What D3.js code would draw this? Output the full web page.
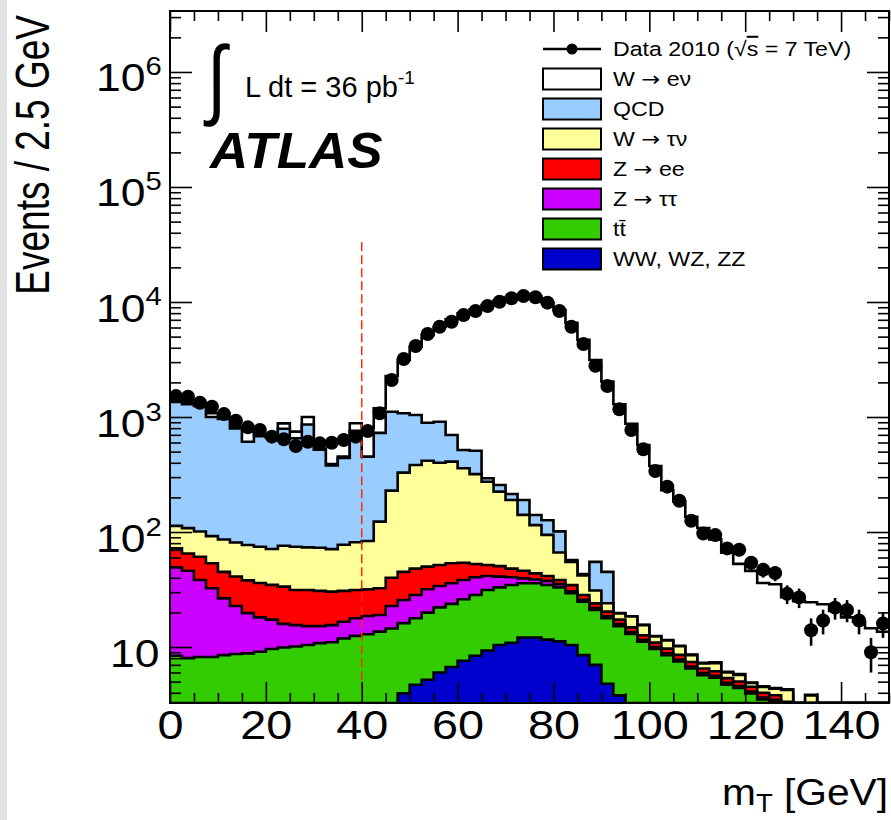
<!DOCTYPE html>
<html>
<head>
<meta charset="utf-8">
<script src="https://cdn.jsdelivr.net/npm/d3@7"></script>
<style>
  body { margin: 0; background: #fff; }
  svg text { font-family: "Liberation Sans", Arial, Helvetica, sans-serif; }
</style>
</head>
<body>
<svg id="chart" width="891" height="820"></svg>
<script>
// 60 bins of 2.5 GeV in m_T
const binWidth = 2.5;
const binLow = d3.range(0, 150, binWidth);

// data points (events / bin)
const dataCounts = [1520, 1500, 1330, 1230, 1060, 930, 813, 771, 675, 640,
  560, 610, 590, 598, 631, 675, 755, 1077, 2100, 3190,
  4140, 5270, 6100, 6740, 7710, 8350, 9230, 10060, 10770, 11270,
  10990, 9870, 8350, 6100, 4310, 2790, 1862, 1166, 771, 524,
  339, 248, 187, 125, 97, 94, 72, 70, 54, 47,
  44, 29, 27, 14, 17, 22, 21, 17, 9, 16];

// stacked MC, bottom to top
const diboson = [0.5, 0.5, 0.6, 0.6, 0.7, 0.7, 0.8, 0.9, 1.0, 1.0,
  1.1, 1.2, 1.3, 1.4, 1.5, 1.7, 2.0, 2.4, 3.0, 3.95,
  4.7, 5.2, 6.0, 6.7, 7.6, 8.4, 9.3, 10.4, 10.9, 12.1,
  12.1, 11.6, 11.2, 10.4, 8.5, 7.0, 4.8, 3.8, 2.8, 2.2,
  1.7, 1.3, 1.0, 0.8, 0.6, 0.5, 0.4, 0.3, 0.25, 0.2,
  0.15, 0.12, 0.1, 0.08, 0.06, 0.05, 0.04, 0.03, 0.03, 0.02];
const ttbar = [7.9, 7.5, 7.6, 7.6, 7.8, 8.0, 8.0, 8.2, 8.6, 8.9,
  9.0, 9.2, 9.5, 9.6, 10.4, 10.8, 10.9, 11.2, 11.5, 12.2,
  13.1, 14.7, 16.1, 17.0, 18.4, 19.9, 22.0, 22.6, 23.7, 23.7,
  23.7, 23.0, 21.8, 18.9, 16.3, 14.0, 13.0, 11.4, 10.2, 8.9,
  7.9, 7.2, 6.5, 5.7, 5.1, 4.9, 4.3, 4.1, 3.7, 3.3,
  3.2, 2.8, 2.4, 2.1, 1.8, 1.65, 1.5, 1.3, 1.12, 1.0];
const zTauTau = [40.9, 38.0, 30.1, 24.2, 18.0, 14.0, 10.9, 9.0, 7.7, 6.0,
  5.4, 4.8, 4.4, 4.5, 4.7, 5.3, 5.7, 5.4, 8.2, 9.5,
  10.5, 11.9, 11.8, 12.1, 12.3, 12.1, 10.1, 7.9, 5.8, 3.7,
  2.9, 3.0, 2.2, 1.2, 1.0, 0.84, 0.7, 0.6, 0.52, 0.45,
  0.38, 0.34, 0.3, 0.26, 0.23, 0.21, 0.19, 0.18, 0.16, 0.14,
  0.13, 0.12, 0.1, 0.09, 0.08, 0.07, 0.06, 0.05, 0.05, 0.04];
const zee = [22.7, 19.0, 22.7, 21.1, 18.5, 18.3, 18.3, 17.9, 17.4, 17.6,
  15.8, 16.1, 15.6, 14.8, 14.2, 13.5, 13.1, 13.4, 17.3, 19.4,
  19.7, 18.2, 17.8, 17.7, 15.7, 12.3, 10.3, 9.6, 7.6, 6.5,
  5.0, 3.8, 3.1, 4.0, 2.5, 2.1, 1.8, 1.5, 1.3, 1.1,
  0.95, 0.85, 0.75, 0.65, 0.57, 0.54, 0.47, 0.44, 0.4, 0.36,
  0.33, 0.3, 0.25, 0.22, 0.2, 0.18, 0.16, 0.14, 0.12, 0.11];
const wTauNu = [41, 43, 40, 38.5, 41, 40, 39, 38.5, 36.4, 42.5,
  43.2, 42.2, 42.2, 40.7, 46.7, 50.2, 51.9, 90.6, 189, 283,
  335, 367, 349, 356, 304, 266, 222, 174, 142, 95,
  71, 53, 28, 20.5, 13.7, 7.1, 3.7, 2.3, 3.6, 2.85,
  1.4, 1.7, 1.6, 1.1, 0.7, 1.1, 0.64, 0.7, 0.35, 0.5,
  0.54, 0.9, 0.15, 1.3, 0.43, 0.36, 0.29, 0.32, 0.29, 0.26];
const qcd = [1237, 1182, 1149, 908, 874, 713, 533, 605, 589, 714,
  579, 787, 447, 309, 363, 679, 369, 605, 883, 749,
  657, 474, 509, 288, 158, 190, 20, 32, 24, 49,
  26, 32, 35, 2, 1, 24, 21, 0.1, 0.1, 0.1,
  0.1, 0.1, 0.1, 0.1, 0.1, 0.1, 0.1, 0.1, 0.05, 0.05,
  0.05, 0.05, 0.05, 0.05, 0.05, 0.05, 0.05, 0.05, 0.05, 0.05];
const wENu = [40, 40, 40, 77, 40, 30, 136, 17, 15, 90,
  93, 140, 13, 10, 12, 121, 348, 460, 1163, 2053,
  3040, 4269, 5190, 6383, 7464, 8141, 9126, 10004, 10776, 11080,
  10989, 9774, 8399, 6543, 4637, 3075, 1985, 1270, 856, 555,
  362, 220, 174, 127, 101, 79, 60, 47, 41, 31.5,
  30.7, 22.8, 22, 20.7, 20.9, 18.2, 16, 14.7, 12.9, 12.1];

const sampleKeys = ["diboson", "ttbar", "zTauTau", "zee", "wTauNu", "qcd", "wENu"];
const sampleValues = { diboson, ttbar, zTauTau, zee, wTauNu, qcd, wENu };
const sampleColors = {
  wENu: "#ffffff", qcd: "#99ccff", wTauNu: "#ffff99", zee: "#ff0000",
  zTauTau: "#cc00ff", ttbar: "#33cc00", diboson: "#0000cc"
};
// legend order (top to bottom); parts: [text, arrow?, text]
const legendKeys = ["wENu", "qcd", "wTauNu", "zee", "zTauTau", "ttbar", "diboson"];
const legendLabels = [["W ", "\u2192", " e\u03bd"], ["QCD"], ["W ", "\u2192", " \u03c4\u03bd"],
  ["Z ", "\u2192", " ee"], ["Z ", "\u2192", " \u03c4\u03c4"], ["tt\u0304"], ["WW, WZ, ZZ"]];

const xMajor = [0, 20, 40, 60, 80, 100, 120, 140];
const yMajor = [10, 100, 1000, 10000, 100000, 1000000];
const mtCut = 40;

const svg = d3.select("#chart");
const margin = { top: 11, right: 2, bottom: 117, left: 170 };
const width = 891 - margin.left - margin.right;
const height = 820 - margin.top - margin.bottom;
const sx = 1.17; // the original picture is stretched sideways

// grey strip on the left edge of the picture
svg.append("rect").attr("x", 0).attr("y", 0).attr("width", 7).attr("height", 820).attr("fill", "#e3e3e3");

const g = svg.append("g").attr("transform", `translate(${margin.left},${margin.top})`);

const x = d3.scaleLinear().domain([0, 150]).range([0, width]);
const y = d3.scaleLog().domain([3.26, 3.39e6]).range([height, 0]).clamp(true);

g.append("clipPath").attr("id", "plotClip")
  .append("rect").attr("width", width).attr("height", height);

const plot = g.append("g").attr("clip-path", "url(#plotClip)");

// build stacked table
const table = binLow.map((lo, i) => {
  const row = { lo };
  sampleKeys.forEach((k) => (row[k] = sampleValues[k][i]));
  return row;
});
const stacked = d3.stack().keys(sampleKeys)(table);

// step outline points for a cumulative histogram
function stepPoints(layer) {
  const pts = [];
  layer.forEach((d) => {
    pts.push([d.data.lo, d[1]]);
    pts.push([d.data.lo + binWidth, d[1]]);
  });
  return pts;
}

const area = d3.area().x((d) => x(d[0])).y0(height).y1((d) => y(d[1]));
const line = d3.line().x((d) => x(d[0])).y((d) => y(d[1]));

// ROOT style: draw from the top of the stack down, each one over the previous
stacked.slice().reverse().forEach((layer) => {
  const pts = stepPoints(layer);
  plot.append("path").attr("d", area(pts)).attr("fill", sampleColors[layer.key]);
  plot.append("path").attr("d", line(pts))
    .attr("fill", "none").attr("stroke", "#000").attr("stroke-width", 2.6)
    .attr("stroke-linejoin", "miter");
});

// m_T cut line
plot.append("line")
  .attr("x1", x(mtCut)).attr("x2", x(mtCut))
  .attr("y1", y(3.3e4)).attr("y2", y(4.3))
  .attr("stroke", "#ff2a00").attr("stroke-width", 1.5)
  .attr("stroke-dasharray", "9,4");

// data with poisson error bars
const pts = dataCounts.map((v, i) => ({ xc: binLow[i] + binWidth / 2, v }));
plot.selectAll(".err").data(pts).enter().append("line")
  .attr("class", "err")
  .attr("x1", (d) => x(d.xc)).attr("x2", (d) => x(d.xc))
  .attr("y1", (d) => y(d.v + Math.sqrt(d.v))).attr("y2", (d) => y(Math.max(d.v - Math.sqrt(d.v), 0.01)))
  .attr("stroke", "#000").attr("stroke-width", 2.6);
plot.selectAll(".pt").data(pts).enter().append("circle")
  .attr("class", "pt")
  .attr("cx", (d) => x(d.xc)).attr("cy", (d) => y(d.v))
  .attr("r", 7).attr("fill", "#000");

// axes: ticks inside on all four sides
function style(sel) {
  sel.select(".domain").remove();
  sel.selectAll("line").attr("stroke", "#000").attr("stroke-width", 1.6);
}
const xMinor = d3.range(0, 151, 5).filter((v) => !xMajor.includes(v));
g.append("g").attr("transform", `translate(0,${height})`)
  .call(d3.axisBottom(x).tickValues(xMinor).tickSize(-10).tickFormat("")).call(style);
g.append("g").attr("transform", `translate(0,${height})`)
  .call(d3.axisBottom(x).tickValues(xMajor).tickSize(-21).tickPadding(8).tickFormat(d3.format("d")))
  .call(style)
  .selectAll("text").attr("font-size", 40).attr("fill", "#000")
  .attr("transform", `scale(${sx},1)`);
g.append("g")
  .call(d3.axisTop(x).tickValues(xMinor).tickSize(-10).tickFormat("")).call(style);
g.append("g")
  .call(d3.axisTop(x).tickValues(xMajor).tickSize(-21).tickFormat("")).call(style);

const yMinor = [];
[1, 10, 100, 1000, 10000, 100000, 1000000].forEach((dec) => {
  for (let m = 2; m <= 9; m++) {
    const v = m * dec;
    if (v > 3.26 && v < 3.39e6) yMinor.push(v);
  }
});
g.append("g").call(d3.axisLeft(y).tickValues(yMinor).tickSize(-11).tickFormat("")).call(style);
g.append("g").call(d3.axisRight(y).tickValues(yMinor).tickSize(-11).tickFormat(""))
  .attr("transform", `translate(${width},0)`).call(style);
g.append("g").attr("transform", `translate(${width},0)`)
  .call(d3.axisRight(y).tickValues(yMajor).tickSize(-22).tickFormat("")).call(style);
const yAx = g.append("g")
  .call(d3.axisLeft(y).tickValues(yMajor).tickSize(-22).tickPadding(12).tickFormat(""))
  .call(style);
yAx.selectAll(".tick").each(function (d) {
  const t = d3.select(this).append("text")
    .attr("x", d === 10 ? -9 : -7).attr("dy", "0.5em")
    .attr("transform", `scale(${sx},1)`)
    .attr("text-anchor", "end").attr("font-size", 38).attr("fill", "#000");
  t.append("tspan").text("10");
  const e = Math.round(Math.log10(d));
  if (e !== 1) {
    t.append("tspan").attr("dy", -16).attr("font-size", 25).text(e);
  }
});

// frame
g.append("rect").attr("width", width).attr("height", height)
  .attr("fill", "none").attr("stroke", "#000").attr("stroke-width", 2);

// axis titles
svg.append("text")
  .attr("transform", "translate(49,15) scale(1.3,1) rotate(-90)")
  .attr("text-anchor", "end").attr("font-size", 37)
  .text("Events / 2.5 GeV");
const xt = svg.append("text").attr("transform", `translate(888,805) scale(1.1,1)`)
  .attr("text-anchor", "end").attr("font-size", 37);
xt.append("tspan").text("m");
xt.append("tspan").attr("font-size", 25).attr("dy", 7).text("T");
xt.append("tspan").attr("dy", -7).text(" [GeV]");

// luminosity + ATLAS label
svg.append("text").attr("transform", "translate(207,108) scale(0.8,1)").attr("font-size", 88).text("\u222b");
const lum = svg.append("text").attr("transform", "translate(245,97)").attr("font-size", 29);
lum.append("tspan").text("L dt = 36 pb");
lum.append("tspan").attr("dy", -13).attr("font-size", 19).text("-1");
svg.append("text").attr("transform", "translate(210,168) scale(1.06,1)")
  .attr("font-size", 50).attr("font-weight", "bold").attr("font-style", "italic")
  .text("ATLAS");

// legend
const leg = svg.append("g").attr("transform", "translate(543,49)");
leg.append("line").attr("x1", 0).attr("x2", 58).attr("y1", 0).attr("y2", 0)
  .attr("stroke", "#000").attr("stroke-width", 2.6);
leg.append("circle").attr("cx", 29).attr("cy", 0).attr("r", 5.5).attr("fill", "#000");
const dataLab = leg.append("text").attr("transform", `translate(70,0) scale(1.13,1)`)
  .attr("dy", "0.36em").attr("font-size", 20.5);
dataLab.append("tspan").text("Data 2010 (\u221a");
dataLab.append("tspan").style("text-decoration", "overline").text("s");
dataLab.append("tspan").text(" = 7 TeV)");

legendKeys.forEach((k, i) => {
  const row = leg.append("g").attr("transform", `translate(0,${30 * (i + 1)})`);
  row.append("rect").attr("x", 0).attr("y", -10.5).attr("width", 58).attr("height", 21)
    .attr("fill", sampleColors[k]).attr("stroke", "#000").attr("stroke-width", 2);
  const t = row.append("text").attr("transform", `translate(70,0) scale(1.13,1)`)
    .attr("dy", "0.36em").attr("font-size", 20.5);
  legendLabels[i].forEach((part) => {
    const s = t.append("tspan").text(part);
    if (part === "\u2192") s.style("font-family", "DejaVu Sans").attr("font-size", 20);
  });
});
</script>
</body>
</html>
